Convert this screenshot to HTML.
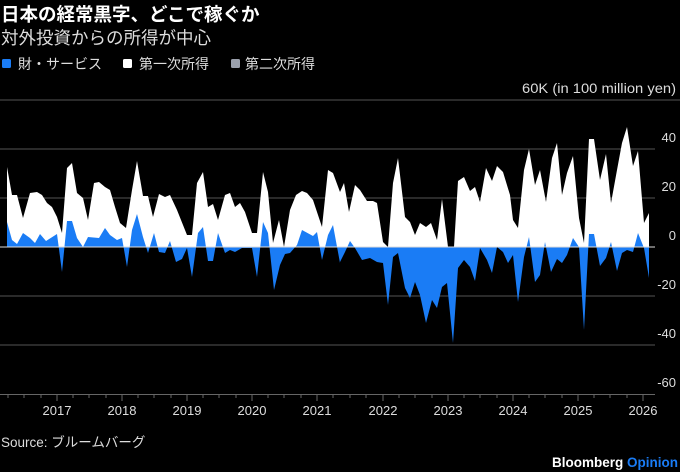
<!DOCTYPE html>
<html><head><meta charset="utf-8"><style>
body{margin:0;background:#000;width:680px;height:472px;overflow:hidden;font-family:"Liberation Sans","Noto Sans CJK JP",sans-serif;color:#fff}
svg{position:absolute;left:0;top:0}
</style></head><body>
<svg width="680" height="472" xmlns="http://www.w3.org/2000/svg" font-family="Liberation Sans, Noto Sans CJK JP, sans-serif">
<rect width="680" height="472" fill="#000"/>
<text x="1" y="21" font-size="18.5" font-weight="bold" fill="#fff">日本の経常黒字、どこで稼ぐか</text>
<text x="1" y="44" font-size="17.5" fill="#ddd">対外投資からの所得が中心</text>
<rect x="2" y="59" width="9" height="9" rx="1.5" fill="#1a7cf5"/>
<text x="18" y="69" font-size="14" fill="#ddd">財・サービス</text>
<rect x="123" y="59" width="9" height="9" rx="1.5" fill="#fff"/>
<text x="139" y="69" font-size="14" fill="#ddd">第一次所得</text>
<rect x="231" y="59" width="9" height="9" rx="1.5" fill="#9aa0ac"/>
<text x="245" y="69" font-size="14" fill="#ddd">第二次所得</text>
<text x="676" y="93" font-size="13.5" fill="#ddd" text-anchor="end" textLength="154" lengthAdjust="spacingAndGlyphs">60K (in 100 million yen)</text>
<g stroke="#555" stroke-width="1">
<line x1="0" y1="100" x2="680" y2="100"/>
<line x1="0" y1="149" x2="655" y2="149"/>
<line x1="0" y1="198" x2="655" y2="198"/>
<line x1="0" y1="296" x2="655" y2="296"/>
<line x1="0" y1="345" x2="655" y2="345"/>
</g>
<g font-size="13" fill="#ddd" text-anchor="end">
<text x="676" y="142">40</text><text x="676" y="191">20</text><text x="676" y="240">0</text>
<text x="676" y="289">-20</text><text x="676" y="338">-40</text><text x="676" y="387">-60</text>
</g>
<polygon fill="#fff" points="7,247 7,167 12,195 17,195 23,218 30,193 37,192 42,195 47,203 52,207 57,217 62,233 67,168 72,163 77,193 83,198 88,220 94,183 99,182 105,187 110,190 115,207 120,223 126,228 132,190 137,161 143,196 148,196 153,217 159,194 165,197 170,195 177,210 187,235 192,235 197,183 203,172 208,207 213,204 218,220 225,195 230,193 235,207 240,203 245,212 252,233 257,233 263,172 268,192 273,243 279,220 284,247 290,210 296,195 302,191 307,193 313,200 322,227 328,170 333,173 340,192 344,183 349,212 355,185 360,190 367,201 373,201 377,203 383,242 388,247 393,183 398,158 405,217 410,222 415,235 420,223 426,227 431,223 437,240 442,199 448,247 454,247 458,181 464,177 470,191 475,187 480,202 486,168 492,181 497,166 503,172 510,195 513,220 518,228 524,170 529,149 535,185 540,170 546,202 552,158 557,143 562,195 567,173 573,156 579,218 584,243 589,139 594,139 600,180 606,154 611,203 617,170 622,143 627,127 633,166 638,151 644,223 649,213 649,247"/>
<polygon fill="#1a7cf5" points="7,247 7,222 12,240 17,244 23,233 30,238 35,243 40,234 46,241 57,234 62,272 67,221 72,221 77,238 83,247 88,237 99,238 105,228 110,235 117,240 122,238 127,267 132,230 137,214 143,237 148,253 154,233 159,252 165,253 170,241 176,262 182,259 187,248 192,277 198,233 203,227 208,261 213,261 218,233 225,253 230,250 235,252 242,248 252,248 257,277 263,222 268,233 274,290 280,265 285,254 290,253 297,245 302,230 313,236 317,232 322,260 328,235 333,225 340,263 340,262 345,252 350,241 355,248 362,260 370,258 377,262 383,263 388,305 393,257 398,253 405,288 410,298 415,282 420,295 426,323 432,300 437,308 442,287 447,283 453,343 458,268 464,260 470,267 475,281 480,248 487,260 492,273 497,247 503,252 508,263 513,255 518,302 524,257 529,237 535,282 540,275 545,242 551,272 557,259 562,263 567,255 573,238 579,247 584,330 589,234 594,234 600,266 606,258 611,242 617,271 622,253 627,250 633,252 638,233 644,248 649,278 649,247"/>
<line x1="0" y1="247" x2="655" y2="247" stroke="#ddd" stroke-width="1"/>
<line x1="0" y1="394.5" x2="655" y2="394.5" stroke="#666" stroke-width="1"/>
<g font-size="13" fill="#ddd" text-anchor="middle">
<text x="57" y="415">2017</text><text x="122" y="415">2018</text><text x="187" y="415">2019</text>
<text x="252" y="415">2020</text><text x="317" y="415">2021</text><text x="383" y="415">2022</text>
<text x="448" y="415">2023</text><text x="513" y="415">2024</text><text x="578" y="415">2025</text>
<text x="643" y="415">2026</text>
</g>
<g stroke="#666" stroke-width="1">
<line x1="57" y1="394" x2="57" y2="401"/><line x1="122" y1="394" x2="122" y2="401"/><line x1="187" y1="394" x2="187" y2="401"/>
<line x1="252" y1="394" x2="252" y2="401"/><line x1="317" y1="394" x2="317" y2="401"/><line x1="383" y1="394" x2="383" y2="401"/>
<line x1="448" y1="394" x2="448" y2="401"/><line x1="513" y1="394" x2="513" y2="401"/><line x1="578" y1="394" x2="578" y2="401"/>
<line x1="643" y1="394" x2="643" y2="401"/>
<line x1="8" y1="394" x2="8" y2="398"/><line x1="24" y1="394" x2="24" y2="398"/><line x1="41" y1="394" x2="41" y2="398"/>
<line x1="73" y1="394" x2="73" y2="398"/><line x1="89" y1="394" x2="89" y2="398"/><line x1="106" y1="394" x2="106" y2="398"/>
<line x1="138" y1="394" x2="138" y2="398"/><line x1="154" y1="394" x2="154" y2="398"/><line x1="171" y1="394" x2="171" y2="398"/>
<line x1="203" y1="394" x2="203" y2="398"/><line x1="219" y1="394" x2="219" y2="398"/><line x1="236" y1="394" x2="236" y2="398"/>
<line x1="268" y1="394" x2="268" y2="398"/><line x1="284" y1="394" x2="284" y2="398"/><line x1="301" y1="394" x2="301" y2="398"/>
<line x1="333" y1="394" x2="333" y2="398"/><line x1="350" y1="394" x2="350" y2="398"/><line x1="366" y1="394" x2="366" y2="398"/>
<line x1="399" y1="394" x2="399" y2="398"/><line x1="415" y1="394" x2="415" y2="398"/><line x1="432" y1="394" x2="432" y2="398"/>
<line x1="464" y1="394" x2="464" y2="398"/><line x1="480" y1="394" x2="480" y2="398"/><line x1="497" y1="394" x2="497" y2="398"/>
<line x1="529" y1="394" x2="529" y2="398"/><line x1="545" y1="394" x2="545" y2="398"/><line x1="562" y1="394" x2="562" y2="398"/>
<line x1="594" y1="394" x2="594" y2="398"/><line x1="610" y1="394" x2="610" y2="398"/><line x1="627" y1="394" x2="627" y2="398"/>
</g>
<text x="1" y="447" font-size="13.5" fill="#ddd">Source: ブルームバーグ</text>
<text x="678" y="467" font-size="13.5" font-weight="bold" fill="#fff" text-anchor="end">Bloomberg <tspan fill="#1a7cf5">Opinion</tspan></text>
</svg>
</body></html>
